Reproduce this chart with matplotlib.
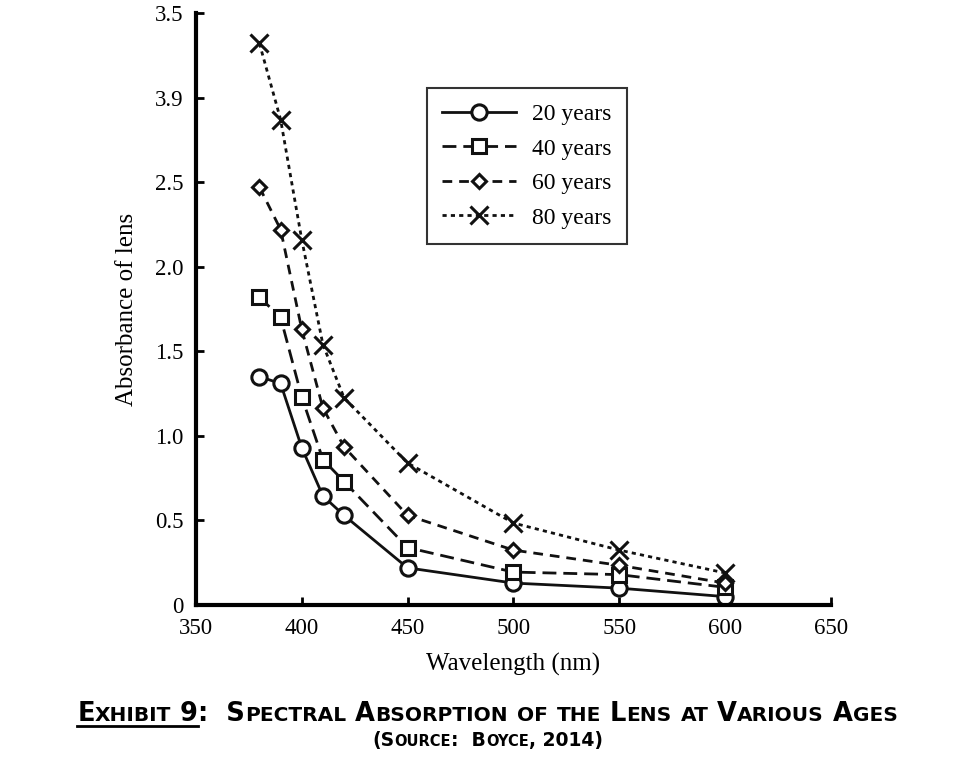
import matplotlib
matplotlib.use("Agg")
import matplotlib.pyplot as plt
from matplotlib.offsetbox import TextArea, HPacker, AnnotationBbox
from matplotlib.lines import Line2D
from matplotlib.transforms import IdentityTransform

# values
wavelength = [380, 390, 400, 410, 420, 450, 500, 550, 600]
age20 = [1.35, 1.31, 0.93, 0.645, 0.53, 0.22, 0.13, 0.10, 0.05]
age40 = [1.82, 1.70, 1.23, 0.86, 0.73, 0.34, 0.195, 0.18, 0.105]
age60 = [2.47, 2.22, 1.63, 1.165, 0.935, 0.53, 0.325, 0.235, 0.13]
age80 = [3.32, 2.87, 2.16, 1.54, 1.225, 0.84, 0.485, 0.325, 0.19]
labels = ['20 years', '40 years', '60 years', '80 years']

xticks = [350, 400, 450, 500, 550, 600, 650]
yticks = [0, 0.5, 1.0, 1.5, 2.0, 2.5, 3.0, 3.5]
ytick_labels = ['0', '0.5', '1.0', '1.5', '2.0', '2.5', '3.9', '3.5']

plt.rcParams['font.family'] = ['Liberation Serif', 'DejaVu Serif']
plt.rcParams['lines.scale_dashes'] = False

fig = plt.figure(figsize=(9.75, 7.63), dpi=100)
ax = fig.add_axes([0.201, 0.207, 0.651, 0.776])

styles = [
    dict(marker='o', ms=11, ls='-'),
    dict(marker='s', ms=10, ls=(0, (10, 5))),
    dict(marker='D', ms=7.5, ls=(0, (7, 5))),
    dict(marker='x', ms=13, ls=(0, (3, 3))),
]
for ys, lab, st in zip([age20, age40, age60, age80], labels, styles):
    ax.plot(wavelength, ys, color='#111111', lw=2, mfc='white', mec='#111111',
            mew=2.2, label=lab, **st)

ax.set_xlim(350, 650)
ax.set_ylim(0, 3.5)
ax.set_xticks(xticks)
ax.set_yticks(yticks)
ax.set_yticklabels(ytick_labels)
for s in ['top', 'right']:
    ax.spines[s].set_visible(False)
for s in ['left', 'bottom']:
    ax.spines[s].set_linewidth(3)
ax.tick_params(direction='in', length=6, width=2, labelsize=16.5, pad=9)
ax.set_xlabel('Wavelength (nm)', fontsize=18, labelpad=10)
ax.set_ylabel('Absorbance of lens', fontsize=18, labelpad=12)

leg = ax.legend(loc='upper left', bbox_to_anchor=(0.364, 0.873), borderaxespad=0,
                fontsize=17, frameon=True, fancybox=False, handlelength=3.1,
                labelspacing=0.55, borderpad=0.65, handletextpad=0.7)
leg.get_frame().set_edgecolor('black')
leg.get_frame().set_linewidth(1.5)


def small_caps(text, big, small, family):
    # split into runs of lower / non-lower chars, lower ones drawn as smaller capitals
    runs = []
    for ch in text:
        low = ch.islower()
        if runs and runs[-1][0] == low:
            runs[-1][1] += ch
        else:
            runs.append([low, ch])
    pieces = []
    for low, chunk in runs:
        pieces.append(TextArea(chunk.upper(), textprops=dict(
            fontsize=small if low else big, family=family, weight='bold', color='black')))
    return pieces


title_font = ['DejaVu Sans']
head = small_caps('Exhibit 9', 18.5, 14.5, title_font)
rest = small_caps(':  Spectral Absorption of the Lens at Various Ages', 18.5, 14.5, title_font)
title_box = HPacker(children=head + rest, align='baseline', pad=0, sep=0)
fig.add_artist(AnnotationBbox(title_box, (0.5, 0.064), xycoords='figure fraction',
                              box_alignment=(0.5, 0.5), frameon=False))

src = small_caps('(Source:  Boyce, 2014)', 13.5, 10.5, title_font)
src_box = HPacker(children=src, align='baseline', pad=0, sep=0)
fig.add_artist(AnnotationBbox(src_box, (0.5, 0.029), xycoords='figure fraction',
                              box_alignment=(0.5, 0.5), frameon=False))

# underline "Exhibit 9"
fig.canvas.draw()
r = fig.canvas.get_renderer()
ext = [p.get_window_extent(r) for p in head]
x0 = min(e.x0 for e in ext)
x1 = max(e.x1 for e in ext)
y0 = min(e.y0 for e in ext)
fig.add_artist(Line2D([x0, x1], [y0 + 1, y0 + 1], transform=IdentityTransform(),
                      color='black', lw=2))

fig.savefig('out.png', dpi=100)
